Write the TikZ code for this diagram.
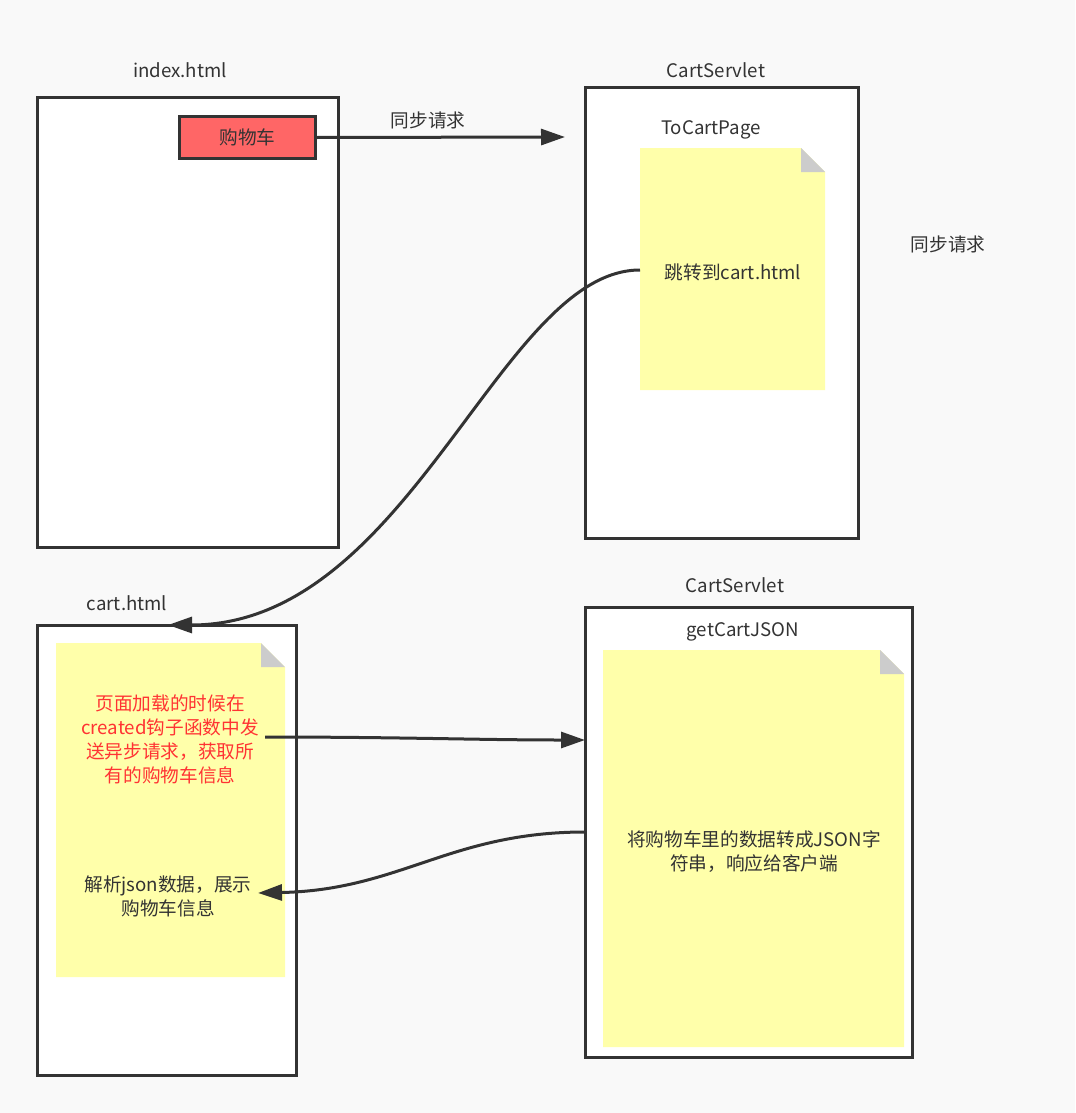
\documentclass[tikz,border=0pt]{standalone}
\usepackage{fontspec}
\setmainfont{Noto Sans CJK SC}
\usetikzlibrary{arrows.meta}
\definecolor{bg}{HTML}{F9F9F9}
\definecolor{ln}{HTML}{333333}
\definecolor{note}{HTML}{FFFFAA}
\definecolor{fold}{HTML}{CCCCCC}
\definecolor{btn}{HTML}{FF6666}
\definecolor{redtxt}{HTML}{FF3333}
\begin{document}
\begin{tikzpicture}[x=0.75pt,y=-0.75pt,
  frame/.style={draw=ln,line width=2.25pt,fill=white},
  lbl/.style={text=ln,font=\fontsize{14pt}{18pt}\selectfont,inner sep=0pt},
  conn/.style={draw=ln,line width=2.25pt,-{Triangle[length=18pt,width=12pt]}},
  notefill/.style={fill=note},
  foldfill/.style={fill=fold}
]
\useasboundingbox (0,0) rectangle (1075,1113);
\fill[bg] (0,0) rectangle (1075,1113);

% index.html
\node[lbl] (lidx) at (180,70) {index.html};
\draw[frame] (37,97) rectangle (338,547);
\coordinate (idxTL) at (37,97);
\node[draw=ln,line width=2.25pt,fill=btn,minimum width=136*0.75pt,minimum height=42*0.75pt,anchor=north west,inner sep=0pt,text=ln,font=\fontsize{14pt}{18pt}\selectfont] (cartbtn) at (178,115) {购物车};

% CartServlet top
\node[lbl] (lcs1) at (716,70) {CartServlet};
\draw[frame] (585,88) rectangle (858,538);
\node[lbl] (ltcp) at (711,130) {ToCartPage};
\fill[note] (640,148) -- (801,148) -- (825,172) -- (825,390) -- (640,390) -- cycle;
\fill[fold] (801,148) -- (825,172) -- (801,172) -- cycle;
\node[lbl] (jump) at (733,272) {跳转到cart.html};
\coordinate (jumpL) at (640,270);
\coordinate (topEnd) at (565,137);

\node[lbl] (sync2) at (948,244) {同步请求};

% cart.html
\node[lbl] (lcart) at (127,603) {cart.html};
\draw[frame] (37,625) rectangle (296,1075);
\coordinate (cartTop) at (168,625);
\fill[note] (56,643) -- (261,643) -- (285,667) -- (285,977) -- (56,977) -- cycle;
\fill[fold] (261,643) -- (285,667) -- (261,667) -- cycle;
\node[lbl,text=redtxt,align=center] (redt) at (170,739) {页面加载的时候在\\created钩子函数中发\\送异步请求，获取所\\有的购物车信息};
\node[lbl,align=center] (parse) at (168,896) {解析json数据，展示\\购物车信息};
\coordinate (reqStart) at (265,737);
\coordinate (respEnd) at (258,893);

% CartServlet bottom
\node[lbl] (lcs2) at (735,585) {CartServlet};
\draw[frame] (585,607) rectangle (912,1057);
\node[lbl] (lgcj) at (743,632) {getCartJSON};
\fill[note] (603,650) -- (880,650) -- (904,674) -- (904,1047) -- (603,1047) -- cycle;
\fill[fold] (880,650) -- (904,674) -- (880,674) -- cycle;
\node[lbl,align=center] (conv) at (754,852) {将购物车里的数据转成JSON字\\符串，响应给客户端};
\coordinate (reqEnd) at (585,740);
\coordinate (respStart) at (585,832);

% connectors
\draw[conn] (cartbtn.east) -- (topEnd);
\node[lbl] (sync1) at (428,120) {同步请求};
\draw[conn] (jumpL) .. controls (500,270) and (410,625) .. (cartTop);
\draw[conn] (reqStart) .. controls (400,737) and (480,740) .. (reqEnd);
\draw[conn] (respStart) .. controls (450,832) and (400,890) .. (respEnd);
\end{tikzpicture}
\end{document}
